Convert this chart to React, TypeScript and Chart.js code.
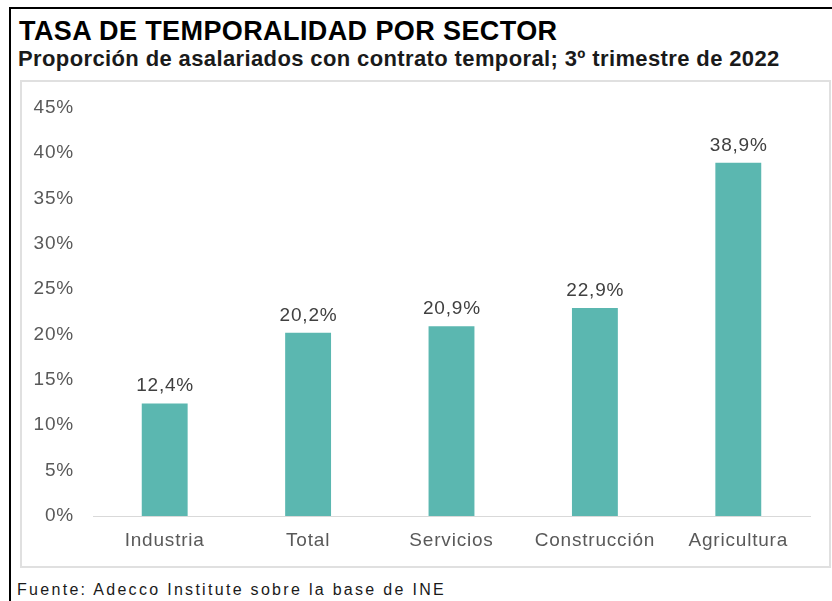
import React, { useEffect, useRef } from "react";
import { Chart, registerables } from "chart.js";

Chart.register(...registerables);

const categories = ["Industria", "Total", "Servicios", "Construcción", "Agricultura"];
const values = [12.4, 20.2, 20.9, 22.9, 38.9];
const yMin = 0;
const yMax = 45;
const yStep = 5;

const TITLE = "TASA DE TEMPORALIDAD POR SECTOR";
const SUBTITLE = "Proporción de asalariados con contrato temporal; 3º trimestre de 2022";
const SOURCE = "Fuente: Adecco Institute sobre la base de INE";

const FONT = '"Liberation Sans", Arial, sans-serif';
const BAR_COLOR = "#5BB7B0";

const fmt = (v: number) => v.toFixed(1).replace(".", ",") + "%";

const spacingPlugin = {
  id: "letterSpacing",
  beforeDraw(chart: any) {
    (chart.ctx as any).letterSpacing = "0.8px";
  },
};

const dataLabelPlugin = {
  id: "dataLabels",
  afterDatasetsDraw(chart: any) {
    const ctx = chart.ctx;
    const meta = chart.getDatasetMeta(0);
    ctx.save();
    (ctx as any).letterSpacing = "0.8px";
    ctx.font = `19px ${FONT}`;
    ctx.fillStyle = "#404040";
    ctx.textAlign = "center";
    ctx.textBaseline = "alphabetic";
    meta.data.forEach((bar: any, i: number) => {
      ctx.fillText(fmt(values[i]), bar.x + 0.4, bar.y - 12);
    });
    ctx.restore();
  },
};

export default function App() {
  const canvasRef = useRef<HTMLCanvasElement | null>(null);

  useEffect(() => {
    if (!canvasRef.current) return;
    const chart = new Chart(canvasRef.current, {
      type: "bar",
      data: {
        labels: categories,
        datasets: [
          {
            data: values,
            backgroundColor: BAR_COLOR,
            borderWidth: 0,
            categoryPercentage: 1,
            barPercentage: 0.32,
          },
        ],
      },
      options: {
        animation: false,
        responsive: true,
        maintainAspectRatio: false,
        layout: { padding: { left: 0, right: 22, top: 107.5, bottom: 0 } },
        plugins: {
          legend: { display: false },
          title: { display: false },
          tooltip: { enabled: false },
        },
        scales: {
          x: {
            grid: { display: false, drawTicks: false },
            border: { display: true, color: "#d9d9d9", width: 1 },
            ticks: {
              padding: 13,
              color: "#595959",
              font: { family: FONT, size: 19 },
            },
            afterFit: (scale: any) => {
              scale.height = 85;
            },
          },
          y: {
            min: yMin,
            max: yMax,
            grid: { display: false, drawTicks: false },
            border: { display: false },
            ticks: {
              stepSize: yStep,
              padding: 19,
              color: "#595959",
              font: { family: FONT, size: 19 },
              callback: (v: any) => `${v}%`,
            },
            afterFit: (scale: any) => {
              scale.width = 93;
            },
          },
        },
      },
      plugins: [spacingPlugin, dataLabelPlugin],
    });
    return () => chart.destroy();
  }, []);

  return (
    <div
      style={{
        position: "fixed",
        left: 0,
        top: 0,
        width: 832,
        height: 601,
        overflow: "hidden",
        background: "#fff",
        fontFamily: FONT,
      }}
    >
      <div
        style={{
          position: "absolute",
          left: 9,
          top: 7,
          width: 900,
          height: 700,
          borderTop: "2px solid #000",
          borderLeft: "2px solid #000",
        }}
      />
      <div
        style={{
          position: "absolute",
          left: 20,
          top: 80,
          width: 811,
          height: 488,
          boxSizing: "border-box",
          border: "2px solid #e0e0e0",
        }}
      />
      <div
        style={{
          position: "absolute",
          left: 19,
          top: 17.5,
          fontSize: 27,
          lineHeight: "27px",
          fontWeight: "bold",
          letterSpacing: "0.4px",
          color: "#000",
          whiteSpace: "nowrap",
        }}
      >
        {TITLE}
      </div>
      <div
        style={{
          position: "absolute",
          left: 18,
          top: 47.5,
          fontSize: 22,
          lineHeight: "22px",
          fontWeight: "bold",
          letterSpacing: "0.38px",
          color: "#1a1a1a",
          whiteSpace: "nowrap",
        }}
      >
        {SUBTITLE}
      </div>
      <div
        style={{
          position: "absolute",
          left: 17,
          top: 582,
          fontSize: 16,
          lineHeight: "16px",
          letterSpacing: "2.3px",
          color: "#1a1a1a",
          whiteSpace: "nowrap",
        }}
      >
        {SOURCE}
      </div>
      <div style={{ position: "absolute", left: 0, top: 0, width: 832, height: 601 }}>
        <canvas ref={canvasRef} />
      </div>
    </div>
  );
}
